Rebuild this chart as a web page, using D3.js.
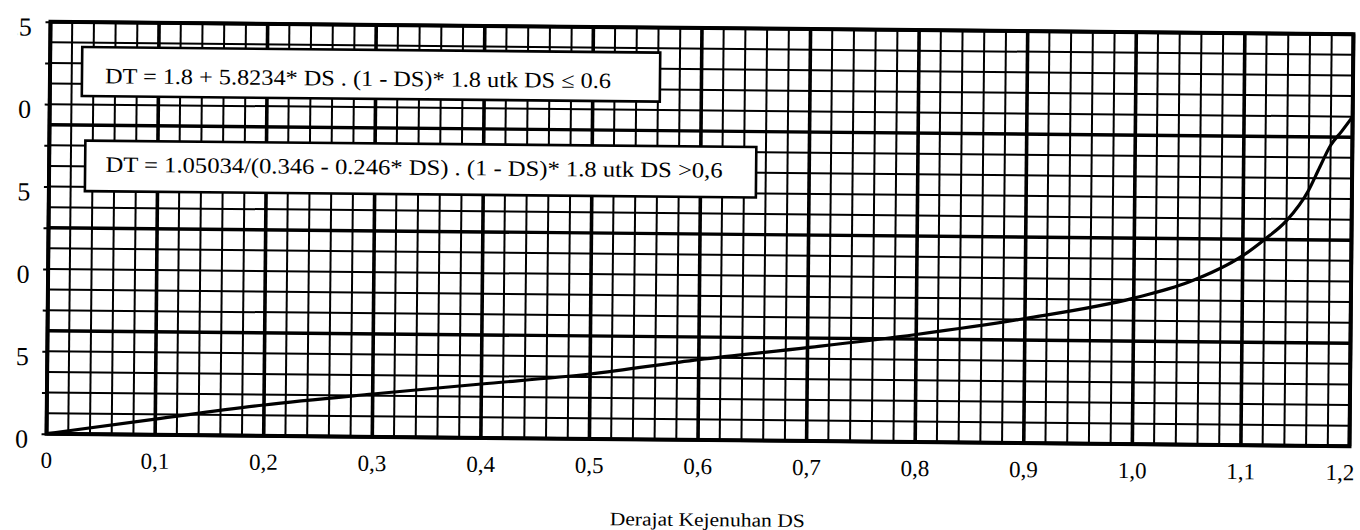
<!DOCTYPE html>
<html>
<head>
<meta charset="utf-8">
<script src="https://cdn.jsdelivr.net/npm/d3@7"></script>
<style>
  body { margin: 0; background: #fff; }
  text { font-family: "Liberation Serif", "Times New Roman", serif; fill: #000; }
</style>
</head>
<body>
<div id="chart"></div>
<script>
// Data (DS = degree of saturation, DT = delay)
const dsValues = [0, 0.1, 0.2, 0.3, 0.4, 0.5, 0.6, 0.7, 0.8, 0.9, 1.0, 1.05, 1.1, 1.12, 1.14, 1.16, 1.17, 1.18, 1.19, 1.2];
const dtValues = [0, 0.95, 1.87, 2.6, 3.27, 3.94, 4.88, 5.67, 6.53, 7.56, 8.86, 9.85, 11.5, 12.5, 13.65, 15.5, 16.9, 18.25, 19.1, 20.0];

const xTickValues = [0, 0.1, 0.2, 0.3, 0.4, 0.5, 0.6, 0.7, 0.8, 0.9, 1.0, 1.1, 1.2];
const xTickLabels = ["0", "0,1", "0,2", "0,3", "0,4", "0,5", "0,6", "0,7", "0,8", "0,9", "1,0", "1,1", "1,2"];
const yTickValues = [0, 5, 10, 15, 20, 25];
const yTickLabels = ["0", "5", "10", "15", "20", "25"];

const noteTexts = [
    "DT = 1.8 + 5.8234* DS . (1 - DS)* 1.8 utk DS \u2264 0.6",
    "DT = 1.05034/(0.346 - 0.246* DS) . (1 - DS)* 1.8 utk DS >0,6"
];
const xTitle = "Derajat Kejenuhan DS";

// Layout
const W = 1360, H = 530;
const margin = {top: 28, right: 8.5, bottom: 90, left: 48.5};
const width = W - margin.left - margin.right,
    height = H - margin.top - margin.bottom;

const svg = d3.select("#chart")
    .append("svg")
    .attr("width", W)
    .attr("height", H);

svg.append("rect").attr("width", W).attr("height", H).attr("fill", "#fff");

// the scan is slightly tilted
const page = svg.append("g")
    .attr("transform", "rotate(0.55,700,234)");

const g = page.append("g")
    .attr("transform", "translate(" + margin.left + "," + margin.top + ")");

const xScale = d3.scaleLinear().domain([0, 1.2]).range([0, width]);
const yScale = d3.scaleLinear().domain([0, 25]).range([height, 0]);

// graph paper grid: 60 columns, 20 rows, heavy line every 5
const vLines = d3.range(0, 61).map(i => ({v: i * 0.02, major: i % 5 === 0}));
const hLines = d3.range(0, 21).map(i => ({v: i * 1.25, major: i % 5 === 0}));

g.selectAll(".vgrid")
    .data(vLines)
    .enter().append("line")
    .attr("class", "vgrid")
    .attr("x1", d => xScale(d.v))
    .attr("x2", d => xScale(d.v))
    .attr("y1", 0)
    .attr("y2", height)
    .attr("stroke", "#000")
    .attr("stroke-width", d => d.major ? 3.6 : 2);

g.selectAll(".hgrid")
    .data(hLines)
    .enter().append("line")
    .attr("class", "hgrid")
    .attr("x1", 0)
    .attr("x2", width)
    .attr("y1", d => yScale(d.v))
    .attr("y2", d => yScale(d.v))
    .attr("stroke", "#000")
    .attr("stroke-width", d => d.major ? 3.4 : 2);

// frame
g.append("rect")
    .attr("width", width)
    .attr("height", height)
    .attr("fill", "none")
    .attr("stroke", "#000")
    .attr("stroke-width", 4);

// small ticks on the left axis
g.append("g")
    .call(d3.axisLeft(yScale).tickValues(d3.range(0, 25.1, 2.5)).tickSize(5).tickFormat(""))
    .call(s => s.select(".domain").remove())
    .selectAll("line").attr("stroke-width", 2);

// curve
const line = d3.line()
    .x((d, i) => xScale(d))
    .y((d, i) => yScale(dtValues[i]))
    .curve(d3.curveMonotoneX);

g.append("path")
    .datum(dsValues)
    .attr("d", line)
    .attr("fill", "none")
    .attr("stroke", "#000")
    .attr("stroke-width", 3.2);

// formula boxes
const boxes = [
    {x: 32, y: 25, w: 578, h: 49, tx: 55, ty: 61, tw: 506},
    {x: 36, y: 118.5, w: 671, h: 50.5, tx: 56.5, ty: 149.5, tw: 617}
];
boxes.forEach((b, i) => {
    g.append("rect")
        .attr("x", b.x)
        .attr("y", b.y)
        .attr("width", b.w)
        .attr("height", b.h)
        .attr("fill", "#fff")
        .attr("stroke", "#000")
        .attr("stroke-width", 2.6);
    g.append("text")
        .attr("x", b.tx)
        .attr("y", b.ty)
        .attr("font-size", 22)
        .attr("textLength", b.tw)
        .attr("lengthAdjust", "spacingAndGlyphs")
        .text(noteTexts[i]);
});

// x tick labels (the last one kept inside the page edge)
const lastX = xTickValues.length - 1;
g.selectAll(".xlab")
    .data(xTickValues)
    .enter().append("text")
    .attr("class", "xlab")
    .attr("x", (d, i) => i === lastX ? xScale(d) + 5 : xScale(d))
    .attr("y", height + 34)
    .attr("text-anchor", (d, i) => i === lastX ? "end" : "middle")
    .attr("font-size", 23)
    .text((d, i) => xTickLabels[i]);

// y tick labels, left part cut off by the edge of the scan
page.append("clipPath")
    .attr("id", "yclip")
    .append("rect")
    .attr("x", 16).attr("y", 0).attr("width", 40).attr("height", H);

page.append("g")
    .attr("clip-path", "url(#yclip)")
    .selectAll(".ylab")
    .data(yTickValues)
    .enter().append("text")
    .attr("class", "ylab")
    .attr("x", 30)
    .attr("y", d => margin.top + yScale(d) + 14)
    .attr("text-anchor", "end")
    .attr("font-size", 26)
    .text((d, i) => yTickLabels[i]);

// x axis title
page.append("text")
    .attr("x", margin.left + width / 2 + 10)
    .attr("y", 526)
    .attr("text-anchor", "middle")
    .attr("font-size", 19)
    .attr("textLength", 195)
    .attr("lengthAdjust", "spacingAndGlyphs")
    .text(xTitle);
</script>
</body>
</html>
